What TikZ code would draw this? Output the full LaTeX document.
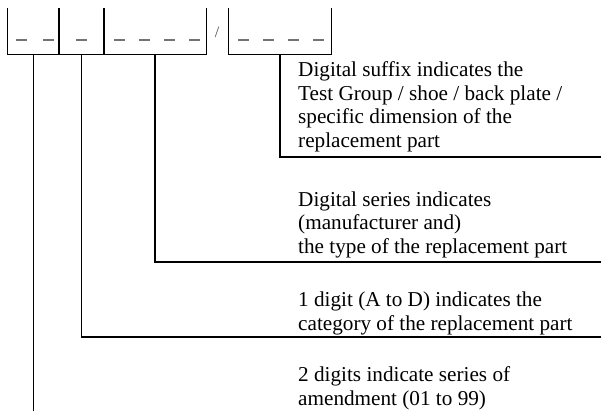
\documentclass[tikz,border=0pt]{standalone}
\usepackage{fontspec}
\setmainfont{Liberation Serif}

\begin{document}
\begin{tikzpicture}[
  x=1pt, y=-1pt,
  field/.style ={inner sep=0pt, minimum height=46pt},
  frame/.style ={line width=1.3pt, draw=black},
  blank/.style ={line width=1.3pt, draw=black!55},
  lead/.style  ={line width=1.3pt, draw=black},
  note/.style  ={anchor=base west, inner sep=0pt, align=left,
                 font=\fontsize{21.2}{23.6}\selectfont},
]
\useasboundingbox (0,0) rectangle (601,411);

% Number fields -- open boxes along the top row.
\node[field, minimum width=51pt]  (amend)  at (33.5,31) {};
\node[field, minimum width=45pt]  (categ)  at (81.5,31) {};
\node[field, minimum width=102pt] (type)   at (155,31)  {};
\node[field, minimum width=102pt] (suffix) at (280,31)  {};
\node[text=black!70, inner sep=0pt, font=\fontsize{16}{16}\selectfont] (slash) at (217,32) {/};

\foreach \f in {amend,categ,type,suffix}
  \draw[frame] (\f.north west) |- (\f.south east) -- (\f.north east);

% Place-holder dashes inside the fields.
\foreach \x in {16,43,76,114,139,164,189,238,263,288,313}
  \draw[blank] (\x,40) -- ++(11,0);

% Explanations, one per field (base = last line).
\node[note] (sfxtxt) at (298,147.5) {Digital suffix indicates the\\Test Group / shoe / back plate /\\specific dimension of the\\replacement part};
\node[note] (typtxt) at (298,253.3) {Digital series indicates\\(manufacturer and)\\the type of the replacement part};
\node[note] (cattxt) at (298,330)   {1 digit (A to D) indicates the\\category of the replacement part};
\node[note] (amdtxt) at (298,405)   {2 digits indicate series of\\amendment (01 to 99)};

% Ends of the leader lines at the right rim and at the foot.
\coordinate (sfxend) at (601,157);
\coordinate (typend) at (601,262);
\coordinate (catend) at (601,337);
\coordinate (foot)   at (0,411);

% Leader lines from each field.
\draw[lead] (suffix.south) |- (sfxend);
\draw[lead] (type.south)   |- (typend);
\draw[lead] (categ.south)  |- (catend);
\draw[lead] (amend.south)  -- (amend.south |- foot);
\end{tikzpicture}
\end{document}
